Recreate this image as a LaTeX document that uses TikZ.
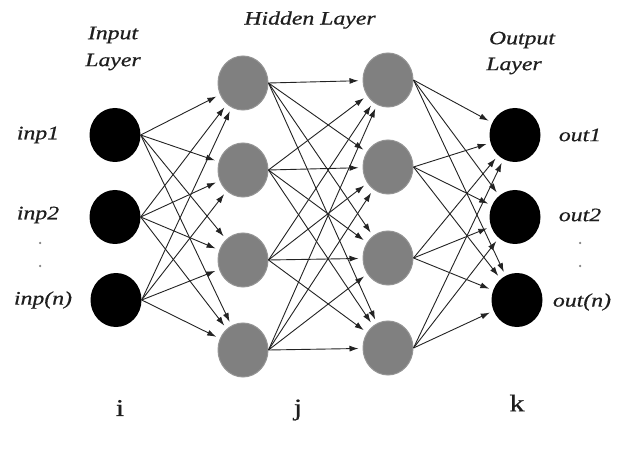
\documentclass[tikz,border=0pt]{standalone}
\usepackage{fontspec}
\setmainfont{Liberation Serif}
\newfontfamily\lblfont[FakeStretch=1.25,FakeBold=0.6]{Liberation Serif}
\usetikzlibrary{shapes.geometric,arrows.meta}
\definecolor{hgray}{RGB}{128,128,128}
\definecolor{hedge}{RGB}{148,148,148}
\definecolor{txt}{RGB}{30,30,30}
\definecolor{lnk}{RGB}{35,35,35}
\begin{document}
\begin{tikzpicture}[x=1pt,y=-1pt,
  inode/.style={ellipse,fill=black,minimum width=51pt,minimum height=54pt,inner sep=0pt},
  hnode/.style={ellipse,fill=hgray,draw=hedge,line width=1pt,minimum width=50pt,minimum height=54pt,inner sep=0pt},
  lbl/.style={font=\lblfont\fontsize{19}{22}\selectfont\itshape,text=txt,inner sep=0pt},
  idx/.style={font=\lblfont\fontsize{24}{26}\selectfont,text=txt,inner sep=0pt},
  conn/.style={draw=lnk,line width=0.9pt,-{Latex[length=9pt,width=6pt]},shorten >=4pt},
  dotm/.style={circle,fill=gray,inner sep=0pt,minimum size=2.5pt}]
\fill[white] (0,0) rectangle (640,449);
\useasboundingbox (0,0) rectangle (640,449);
% input layer
\node[inode] (i1) at (115,135) {};
\node[inode] (i2) at (115,217) {};
\node[inode] (i3) at (116,300) {};
% hidden layer 1
\node[hnode] (h1) at (243,83) {};
\node[hnode] (h2) at (243,170) {};
\node[hnode] (h3) at (243,260) {};
\node[hnode] (h4) at (243,350) {};
% hidden layer 2
\node[hnode] (g1) at (388,80) {};
\node[hnode] (g2) at (388,167) {};
\node[hnode] (g3) at (388,258) {};
\node[hnode] (g4) at (388,348) {};
% output layer
\node[inode] (o1) at (515,135) {};
\node[inode] (o2) at (515,217) {};
\node[inode] (o3) at (517,300) {};
% connections
\foreach \a in {i1,i2,i3} \foreach \b in {h1,h2,h3,h4} \draw[conn] (\a.east) -- (\b);
\foreach \a in {h1,h2,h3,h4} \foreach \b in {g1,g2,g3,g4} \draw[conn] (\a.east) -- (\b);
\foreach \a in {g1,g2,g3,g4} \foreach \b in {o1,o2,o3} \draw[conn] (\a.east) -- (\b);
% labels
\node[lbl] (tin1) at (113,35) {Input};
\node[lbl] (tin2) at (113,62) {Layer};
\node[lbl] (thid) at (310,20) {Hidden Layer};
\node[lbl] (tout1) at (522,40) {Output};
\node[lbl] (tout2) at (514,66) {Layer};
\node[lbl] (li1) at (38,135) {inp1};
\node[lbl] (li2) at (38,215) {inp2};
\node[lbl] (li3) at (43,300) {inp(n)};
\node[lbl] (lo1) at (580,135) {out1};
\node[lbl] (lo2) at (580,215) {out2};
\node[lbl] (lo3) at (582,302) {out(n)};
\node[idx] (ni) at (120,408) {i};
\node[idx] (nj) at (298,410) {j};
\node[idx] (nk) at (517,403) {k};
% vertical ellipsis dots
\node[dotm] (d1) at (40,243) {};
\node[dotm] (d2) at (40,266) {};
\node[dotm] (d3) at (580,243) {};
\node[dotm] (d4) at (580,266) {};
\end{tikzpicture}
\end{document}
